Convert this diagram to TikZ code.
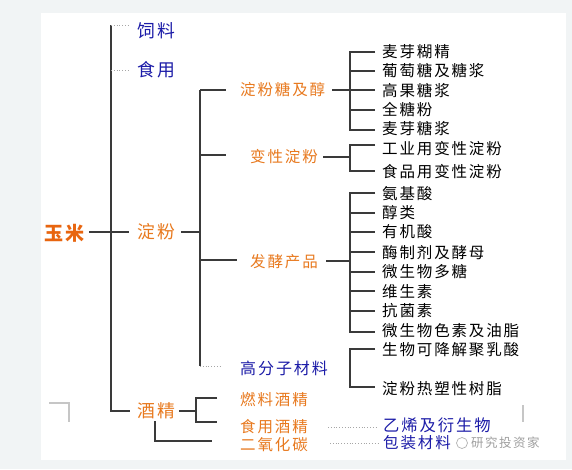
\documentclass[tikz,border=0pt]{standalone}
\usepackage{fontspec}
\newfontfamily\cjk{Noto Sans CJK SC}[LetterSpace=12]
\definecolor{bgc}{HTML}{F1F4F5}
\definecolor{org}{HTML}{E8791E}
\definecolor{orgd}{HTML}{E8650F}
\definecolor{blu}{HTML}{1C1CA8}
\definecolor{lnc}{HTML}{3A3A3A}
\tikzset{
  base/.style={inner sep=0pt, anchor=west},
  root/.style={base, text=orgd, font=\cjk\fontsize{19}{19}\selectfont\bfseries},
  lvlo/.style={base, text=org, font=\cjk\fontsize{17.8}{18}\selectfont},
  lvlb/.style={base, text=blu, font=\cjk\fontsize{17.8}{18}\selectfont},
  subo/.style={base, text=org, font=\cjk\fontsize{15.5}{16}\selectfont},
  subb/.style={base, text=blu, font=\cjk\fontsize{15.5}{16}\selectfont},
  leaf/.style={base, text=black, font=\cjk\fontsize{15.5}{16}\selectfont},
  ln/.style={draw=lnc, line width=1.1pt},
  dl/.style={draw=gray!70, line width=0.8pt, dotted},
  art/.style={draw=gray!45, line width=1.2pt}
}
\begin{document}
\begin{tikzpicture}[x=1pt,y=-1pt]
\useasboundingbox (0,0) rectangle (572,469);
\fill[bgc] (0,0) rectangle (572,469);
\fill[white] (41,13) rectangle (566,460);

% level 0/1
\node[root] (ym) at (44,233) {玉米};
\node[lvlb] (sl) at (137,31) {饲料};
\node[lvlb] (sy) at (137,70) {食用};
\node[lvlo] (df) at (137,232) {淀粉};
\node[lvlo] (jj) at (137,411) {酒精};

% level 2
\node[subo] (tj) at (240,90) {淀粉糖及醇};
\node[subo] (bx) at (250,157) {变性淀粉};
\node[subo] (fj) at (250,262) {发酵产品};
\node[subb, font=\cjk\fontsize{16}{16}\selectfont] (gf) at (240,368) {高分子材料};
\node[subo] (rl) at (240,400) {燃料酒精};
\node[subo] (sj) at (240,427) {食用酒精};
\node[subo] (eh) at (240,445) {二氧化碳};

% leaves
\node[leaf] (a1) at (382,52) {麦芽糊精};
\node[leaf] (a2) at (382,71) {葡萄糖及糖浆};
\node[leaf] (a3) at (382,91) {高果糖浆};
\node[leaf] (a4) at (382,110) {全糖粉};
\node[leaf] (a5) at (382,129) {麦芽糖浆};
\node[leaf] (b1) at (382,149) {工业用变性淀粉};
\node[leaf] (b2) at (382,172) {食品用变性淀粉};
\node[leaf] (c1) at (382,194) {氨基酸};
\node[leaf] (c2) at (382,213) {醇类};
\node[leaf] (c3) at (382,232) {有机酸};
\node[leaf] (c4) at (382,253) {酶制剂及酵母};
\node[leaf] (c5) at (382,272) {微生物多糖};
\node[leaf] (c6) at (382,292) {维生素};
\node[leaf] (c7) at (382,311) {抗菌素};
\node[leaf] (c8) at (382,331) {微生物色素及油脂};
\node[leaf] (d1) at (382,350) {生物可降解聚乳酸};
\node[leaf] (d2) at (382,389) {淀粉热塑性树脂};
\node[subb, font=\cjk\fontsize{16.3}{17}\selectfont] (yx) at (383,425) {乙烯及衍生物};
\node[subb] (bz) at (383,443) {包装材料};

% trunk
\coordinate (t0) at (111,25);
\coordinate (t1) at (111,411);
\coordinate (ymr) at (89,232);
\coordinate (dfl) at (129,232);
\draw[ln] (t0) -- (t1) -- (130,411);
\draw[dl] (t0) -- (128,25);
\draw[dl] (111,70) -- (130,70);
\draw[ln] (ymr) -- (dfl);

% starch branch
\coordinate (s0) at (200,90);
\coordinate (s1) at (200,366);
\draw[ln] (181,232) -- (200,232);
\draw[ln] (s0) -- (s1);
\draw[ln] (s0) -- (226,90);
\draw[ln] (200,155) -- (226,155);
\draw[ln] (200,260) -- (237,260);
\draw[dl] (s1) -- (220,366);

% sugar
\draw[ln] (332,90) -- (375,90);
\draw[ln] (375,52) -- (350,52) -- (350,130) -- (375,130);
\foreach \y in {71,110} \draw[ln] (350,\y) -- (375,\y);

% modified starch
\draw[ln] (323,157) -- (350,157);
\draw[ln] (375,145) -- (350,145) -- (350,171) -- (375,171);

% fermentation
\draw[ln] (326,261) -- (350,261);
\draw[ln] (375,193) -- (350,193) -- (350,332) -- (375,332);
\foreach \y in {213,232,252,272,291,311} \draw[ln] (350,\y) -- (375,\y);

% polymer
\draw[ln] (375,349) -- (350,349) -- (350,387) -- (375,387);

% alcohol
\draw[ln] (179,411) -- (196,411);
\draw[ln] (217,398) -- (196,398) -- (196,422) -- (217,422);
\draw[ln] (155,421) -- (155,441) -- (212,441);
\draw[dl] (328,427) -- (376,427);
\draw[dl] (330,443) -- (378,443);

% artifacts
\draw[art] (49,403) -- (69,403) -- (69,422);
\draw[art] (523,405) -- (523,422);
% watermark
\draw[gray!60, line width=0.7pt] (462,443) circle (5.5);
\node[base, text=gray!75, font=\cjk\fontsize{12.5}{13}\selectfont] (wm) at (471,443) {研究投资家};
\end{tikzpicture}
\end{document}
